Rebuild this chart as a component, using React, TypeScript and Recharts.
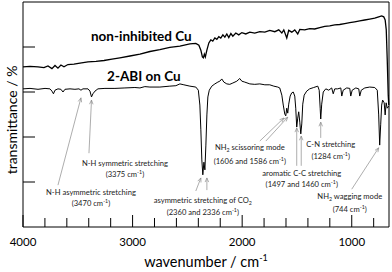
import React from "react";
import { LineChart, Line, XAxis, YAxis, ReferenceLine, ReferenceDot } from "recharts";

// non-inhibited Cu
const bareWn = [
  4000, 3936, 3863, 3809, 3772, 3736, 3708, 3681, 3654, 3626,
  3590, 3535, 3480, 3407, 3334, 3261, 3188, 3116, 3024, 2933,
  2842, 2751, 2660, 2568, 2477, 2423, 2395, 2377, 2363, 2354,
  2345, 2336, 2322, 2304, 2286, 2268, 2249, 2231, 2213, 2195,
  2176, 2158, 2140, 2122, 2103, 2085, 2058, 2031, 2003, 1967,
  1930, 1885, 1839, 1793, 1748, 1702, 1666, 1638, 1620, 1593,
  1575, 1547, 1520, 1493, 1474, 1429, 1383, 1338, 1292, 1246,
  1201, 1155, 1110, 1064, 1018, 973, 927, 882, 836, 790,
  754, 727, 708, 695, 685, 676, 667, 662,
];
const bareT = [
  3.56, 3.57, 3.56, 3.54, 3.58, 3.52, 3.59, 3.53, 3.6, 3.56,
  3.61, 3.62, 3.64, 3.67, 3.68, 3.7, 3.73, 3.76, 3.8, 3.84,
  3.9, 3.94, 3.99, 4.02, 4.07, 4.08, 4.04, 3.93, 3.78, 3.76,
  3.84, 3.78, 3.93, 4.09, 4.16, 4.13, 4.2, 4.17, 4.23, 4.2,
  4.27, 4.22, 4.29, 4.21, 4.3, 4.24, 4.31, 4.27, 4.32, 4.29,
  4.33, 4.31, 4.34, 4.33, 4.37, 4.34, 4.38, 4.31, 4.38, 4.2,
  4.37, 4.33, 4.38, 4.29, 4.39, 4.38, 4.41, 4.4, 4.43, 4.46,
  4.47, 4.49, 4.5, 4.52, 4.54, 4.56, 4.58, 4.6, 4.62, 4.64,
  4.67, 4.69, 4.67, 4.6, 4.38, 3.71, 2.93, 2.71,
];

// 2-ABI on Cu
const abiWn = [
  4000, 3936, 3863, 3799, 3754, 3736, 3722, 3708, 3681, 3654,
  3635, 3617, 3571, 3526, 3489, 3471, 3453, 3407, 3389, 3375,
  3362, 3343, 3316, 3252, 3161, 3070, 2979, 2933, 2888, 2842,
  2751, 2660, 2605, 2568, 2532, 2477, 2423, 2400, 2386, 2377,
  2368, 2359, 2349, 2340, 2331, 2322, 2313, 2300, 2277, 2249,
  2222, 2204, 2186, 2167, 2140, 2113, 2085, 2049, 2022, 2003,
  1976, 1930, 1885, 1839, 1793, 1748, 1711, 1675, 1657, 1638,
  1625, 1611, 1602, 1593, 1584, 1575, 1562, 1548, 1534, 1520,
  1511, 1502, 1493, 1484, 1474, 1465, 1456, 1447, 1434, 1411,
  1384, 1347, 1310, 1297, 1288, 1283, 1274, 1260, 1237, 1210,
  1183, 1169, 1155, 1128, 1100, 1091, 1078, 1046, 1018, 1009,
  996, 963, 936, 927, 913, 881, 836, 790, 767, 754,
  745, 736, 727, 718, 704, 695, 686, 676, 662,
];
const abiT = [
  3.07, 3.08, 3.06, 3.08, 3.07, 3.02, 2.96, 3.04, 3.07, 3.06,
  3.0, 3.06, 3.07, 3.06, 3.07, 3.04, 3.07, 3.07, 3.02, 2.89,
  2.96, 3.02, 3.07, 3.08, 3.08, 3.09, 3.1, 3.09, 3.12, 3.11,
  3.11, 3.13, 3.14, 3.18, 3.16, 3.13, 3.11, 3.04, 2.71, 2.16,
  1.49, 1.16, 1.44, 1.27, 1.82, 2.49, 2.89, 3.04, 3.13, 3.18,
  3.22, 3.24, 3.29, 3.22, 3.18, 3.17, 3.2, 3.24, 3.3, 3.24,
  3.22, 3.18, 3.17, 3.18, 3.16, 3.16, 3.13, 3.11, 3.09, 2.93,
  2.71, 2.51, 2.47, 2.64, 2.53, 2.73, 2.91, 2.98, 3.0, 2.91,
  2.64, 2.22, 2.42, 2.56, 2.33, 2.07, 2.29, 2.73, 2.93, 3.02,
  3.07, 3.1, 3.13, 3.04, 2.64, 2.4, 2.73, 3.0, 3.07, 3.04,
  3.09, 2.96, 3.07, 3.07, 3.09, 2.91, 3.04, 3.09, 3.08, 2.91,
  3.04, 3.09, 3.07, 2.91, 3.04, 3.09, 3.11, 3.1, 3.04, 2.49,
  1.82, 2.27, 2.71, 2.82, 2.76, 2.49, 2.76, 2.64, 2.69,
];

const xTicks = [4000, 3800, 3600, 3400, 3200, 3000, 2800, 2600, 2400, 2200, 2000, 1800, 1600, 1400, 1200, 1000, 800];
const xLabels = [4000, 3000, 2000, 1000];
const yTicks = [1, 2, 3, 4];

const bare = bareWn.map((wn, i) => ({ wn, t: bareT[i] }));
const abi = abiWn.map((wn, i) => ({ wn, t: abiT[i] }));

const FONT = "Lato, 'Liberation Sans', sans-serif";

// annotation texts, "_2" = subscript, "^-1" = superscript
const notes = [
  { x: 3380, y: 0.78, gap: 11, lines: ["N-H asymmetric stretching", "(3470 cm^-1)"] },
  { x: 3070, y: 1.42, gap: 11, lines: ["N-H symmetric stretching", "(3375 cm^-1)"] },
  { x: 2359, y: 0.6, gap: 12, lines: ["asymmetric stretching of CO_2", "(2360 and 2336 cm^-1)"] },
  { x: 1930, y: 1.78, gap: 14, lines: ["NH_2 scissoring mode", "(1606 and 1586 cm^-1)"] },
  { x: 1456, y: 1.2, gap: 11, lines: ["aromatic C-C stretching", "(1497 and 1460 cm^-1)"] },
  { x: 1192, y: 1.84, gap: 12, lines: ["C-N stretching", "(1284 cm^-1)"] },
  { x: 1018, y: 0.69, gap: 13, lines: ["NH_2 wagging mode", "(744 cm^-1)"] },
];

const arrows = [
  [{ x: 3681, y: 0.93 }, { x: 3471, y: 2.87 }],
  [{ x: 3398, y: 1.64 }, { x: 3375, y: 2.82 }],
  [{ x: 2423, y: 0.8 }, { x: 2377, y: 1.09 }],
  [{ x: 2322, y: 0.82 }, { x: 2322, y: 1.09 }],
  [{ x: 1839, y: 1.91 }, { x: 1620, y: 2.42 }],
  [{ x: 1784, y: 1.91 }, { x: 1584, y: 2.44 }],
  [{ x: 1502, y: 1.36 }, { x: 1502, y: 2.2 }],
  [{ x: 1461, y: 1.36 }, { x: 1461, y: 2.02 }],
  [{ x: 1283, y: 1.98 }, { x: 1283, y: 2.33 }],
  [{ x: 1000, y: 0.84 }, { x: 754, y: 1.76 }],
];

function richText(s: string) {
  const parts = s.split(/(_2|\^-1)/).filter((p) => p !== "");
  const out: React.ReactNode[] = [];
  let shift = 0;
  parts.forEach((p, i) => {
    if (p === "_2") {
      out.push(<tspan key={i} dy={2 - shift} fontSize={5.3}>2</tspan>);
      shift = 2;
    } else if (p === "^-1") {
      out.push(<tspan key={i} dy={-3 - shift} fontSize={5.3}>-1</tspan>);
      shift = -3;
    } else {
      out.push(<tspan key={i} dy={-shift}>{p}</tspan>);
      shift = 0;
    }
  });
  return out;
}

const Note = (lines: string[], gap: number) => (props: any) => {
  const { cx, cy } = props;
  return (
    <g>
      {lines.map((l, i) => (
        <text key={i} x={cx} y={cy + i * gap + 3} textAnchor="middle" fontSize={7.6} fontFamily={FONT} fill="#222">
          {richText(l)}
        </text>
      ))}
    </g>
  );
};

const Arrow = (props: any) => {
  const { x1, y1, x2, y2 } = props;
  const a = Math.atan2(y2 - y1, x2 - x1);
  const h = 4.5;
  const s = 0.4;
  return (
    <g stroke="#8a8a8a" strokeWidth={0.7} fill="none">
      <line x1={x1} y1={y1} x2={x2} y2={y2} />
      <line x1={x2} y1={y2} x2={x2 - h * Math.cos(a - s)} y2={y2 - h * Math.sin(a - s)} />
      <line x1={x2} y1={y2} x2={x2 - h * Math.cos(a + s)} y2={y2 - h * Math.sin(a + s)} />
    </g>
  );
};

const BottomTick = (props: any) => {
  const { x, y, payload } = props;
  const major = payload.value % 1000 === 0;
  return (
    <g>
      <line x1={x} x2={x} y1={y} y2={y - (major ? 12 : 9)} stroke="#000" strokeWidth={1} />
      {xLabels.includes(payload.value) && (
        <text x={x} y={y + 19} textAnchor="middle" fontSize={11.5} fontFamily={FONT} fill="#000">
          {payload.value}
        </text>
      )}
    </g>
  );
};

const TopTick = (props: any) => {
  const { x, y, payload } = props;
  const major = payload.value % 1000 === 0;
  return <line x1={x} x2={x} y1={y} y2={y + (major ? 12 : 9)} stroke="#000" strokeWidth={1} />;
};

const LeftTick = (props: any) => {
  const { x, y } = props;
  return <line x1={x} x2={x + 12} y1={y} y2={y} stroke="#000" strokeWidth={1} />;
};

export default function App() {
  return (
    <div style={{ position: "absolute", left: 0, top: 0, background: "#fff" }}>
      <LineChart width={392} height={272} margin={{ top: 1, right: 2, bottom: 44, left: 22 }}>
        <XAxis
          dataKey="wn"
          type="number"
          domain={[660, 4000]}
          reversed
          ticks={xTicks}
          interval={0}
          height={1}
          tickLine={false}
          tickSize={0}
          tickMargin={0}
          tick={<BottomTick />}
          axisLine={{ stroke: "#000" }}
          label={{
            content: (p: any) => {
              const vb = p.viewBox;
              return (
                <text x={vb.x + vb.width / 2} y={227 + 40} textAnchor="middle" fontSize={14.5} fontFamily={FONT} fill="#000">
                  wavenumber / cm
                  <tspan dy={-6} fontSize={9}>-1</tspan>
                </text>
              );
            },
          }}
        />
        <XAxis
          xAxisId="top"
          orientation="top"
          type="number"
          domain={[660, 4000]}
          reversed
          ticks={xTicks}
          interval={0}
          height={1}
          tickLine={false}
          tickSize={0}
          tickMargin={0}
          tick={<TopTick />}
          axisLine={{ stroke: "#000" }}
        />
        <YAxis
          type="number"
          domain={[0, 5]}
          ticks={yTicks}
          interval={0}
          width={1}
          tickLine={false}
          tickSize={0}
          tickMargin={0}
          tick={<LeftTick />}
          axisLine={{ stroke: "#000" }}
          label={{
            content: () => {
              const cy = 120;
              return (
                <text x={11} y={cy} transform={`rotate(-90 11 ${cy})`} textAnchor="middle" dominantBaseline="central" fontSize={14} fontFamily={FONT} fill="#000">
                  transmittance / %
                </text>
              );
            },
          }}
        />
        <YAxis yAxisId="right" orientation="right" type="number" domain={[0, 5]} width={1} tick={false} tickLine={false} axisLine={{ stroke: "#000" }} />
        <Line data={bare} dataKey="t" type="linear" dot={false} stroke="#000" strokeWidth={1.3} isAnimationActive={false} />
        <Line data={abi} dataKey="t" type="linear" dot={false} stroke="#000" strokeWidth={1} isAnimationActive={false} />
        {arrows.map((seg, i) => (
          <ReferenceLine key={"a" + i} segment={seg} shape={Arrow} />
        ))}
        {notes.map((n, i) => (
          <ReferenceDot key={"n" + i} x={n.x} y={n.y} r={0} shape={Note(n.lines, n.gap)} />
        ))}
        <ReferenceDot
          x={2920}
          y={4.24}
          r={0}
          shape={(p: any) => (
            <text x={p.cx} y={p.cy + 5} textAnchor="middle" fontSize={13.5} fontWeight="bold" fontFamily={FONT} fill="#000">
              non-inhibited Cu
            </text>
          )}
        />
        <ReferenceDot
          x={2897}
          y={3.36}
          r={0}
          shape={(p: any) => (
            <text x={p.cx} y={p.cy + 5} textAnchor="middle" fontSize={13.5} fontWeight="bold" fontFamily={FONT} fill="#000">
              2-ABI on Cu
            </text>
          )}
        />
      </LineChart>
    </div>
  );
}
